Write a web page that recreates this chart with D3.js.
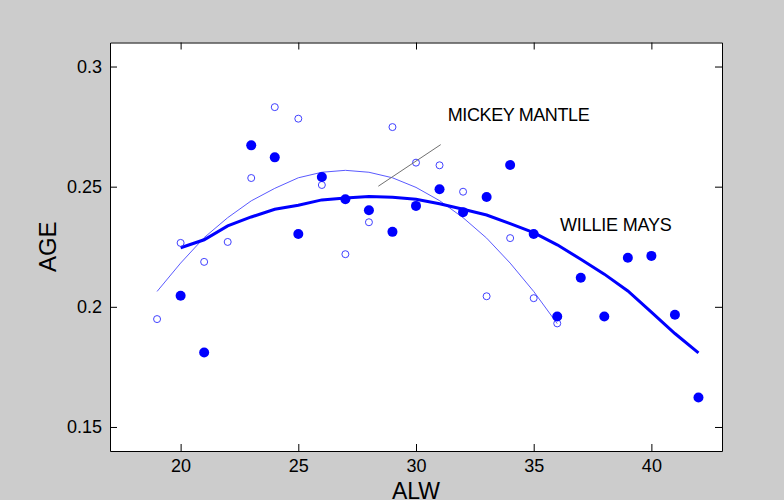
<!DOCTYPE html>
<html>
<head>
<meta charset="utf-8">
<script src="https://cdn.jsdelivr.net/npm/d3@7"></script>
<style>
  body { margin: 0; background: #cccccc; }
  svg { display: block; }
  text { font-family: "Liberation Sans", Arial, sans-serif; fill: #000; }
</style>
</head>
<body>
<div id="chart"></div>
<script>
// Willie Mays seasons (no age 22 season)
const maysAges = [20, 21, 23, 24, 25, 26, 27, 28, 29, 30, 31, 32, 33, 34, 35, 36, 37, 38, 39, 40, 41, 42];
const maysValues = [0.2046, 0.181, 0.2672, 0.2622, 0.2303, 0.254, 0.2448, 0.2402, 0.2312, 0.242, 0.2489,
  0.2394, 0.2457, 0.259, 0.2303, 0.196, 0.2121, 0.196, 0.2204, 0.2212, 0.1967, 0.1623];

// Mickey Mantle seasons
const mantleAges = [19, 20, 21, 22, 23, 24, 25, 26, 27, 28, 29, 30, 31, 32, 33, 34, 35, 36];
const mantleValues = [0.1949, 0.2266, 0.2187, 0.227, 0.2536, 0.2831, 0.2783, 0.2507, 0.2219, 0.2352, 0.2748,
  0.26, 0.2589, 0.2479, 0.2044, 0.2286, 0.2036, 0.1931];

// fitted curves, read at each age
const maysFitAges = [20, 21, 22, 23, 24, 25, 26, 27, 28, 29, 30, 31, 32, 33, 34, 35, 36, 37, 38, 39, 40, 41, 42];
const maysFit = [0.2246, 0.2279, 0.2337, 0.2374, 0.2406, 0.2423, 0.2445, 0.2453, 0.2459, 0.2456, 0.2448, 0.2429,
  0.2406, 0.2382, 0.2346, 0.2309, 0.2258, 0.2198, 0.2136, 0.2066, 0.1978, 0.1889, 0.1808];
const mantleFit = [0.2064, 0.2182, 0.2288, 0.2371, 0.2441, 0.2493, 0.2537, 0.256, 0.2568, 0.256, 0.2537, 0.2497,
  0.2442, 0.2371, 0.2286, 0.2182, 0.2064, 0.193];

const xTicks = [20, 25, 30, 35, 40];
const yTicks = [0.15, 0.2, 0.25, 0.3];
const yTickLabels = ['0.15', '0.2', '0.25', '0.3'];

const width = 784, height = 500;
const margin = { top: 42.5, right: 62, bottom: 49, left: 110 };
const innerW = width - margin.left - margin.right;
const innerH = height - margin.top - margin.bottom;

const svg = d3.select('#chart').append('svg')
  .attr('width', width)
  .attr('height', height);

svg.append('rect')
  .attr('width', width).attr('height', height)
  .attr('fill', '#cccccc');

const chart = svg.append('g')
  .attr('transform', `translate(${margin.left},${margin.top})`);

chart.append('rect')
  .attr('width', innerW).attr('height', innerH)
  .attr('fill', '#fff');

const xScale = d3.scaleLinear().domain([17, 43]).range([0, innerW]);
const yScale = d3.scaleLinear().domain([0.14, 0.31]).range([innerH, 0]);

// axes with inward ticks on all four sides
const tickLen = 7;
const xAxis = d3.axisBottom(xScale).tickValues(xTicks).tickSizeInner(-tickLen).tickSizeOuter(0).tickPadding(8);
const xAxisTop = d3.axisTop(xScale).tickValues(xTicks).tickSizeInner(-tickLen).tickSizeOuter(0).tickFormat('');
const yAxis = d3.axisLeft(yScale).tickValues(yTicks).tickSizeInner(-tickLen).tickSizeOuter(0).tickPadding(8)
  .tickFormat((d, i) => yTickLabels[i]);
const yAxisRight = d3.axisRight(yScale).tickValues(yTicks).tickSizeInner(-tickLen).tickSizeOuter(0).tickFormat('');

const styleAxis = g => {
  g.select('.domain').attr('stroke', '#000');
  g.selectAll('.tick line').attr('stroke', '#000');
  g.selectAll('.tick text').style('font-size', '18px').attr('fill', '#000');
};

chart.append('g').attr('transform', `translate(0,${innerH})`).call(xAxis).call(styleAxis);
chart.append('g').call(xAxisTop).call(styleAxis);
chart.append('g').call(yAxis).call(styleAxis);
chart.append('g').attr('transform', `translate(${innerW},0)`).call(yAxisRight).call(styleAxis);

// axis labels
svg.append('text')
  .attr('x', margin.left + xScale(30))
  .attr('y', 499)
  .attr('text-anchor', 'middle')
  .style('font-size', '23px')
  .text('ALW');

svg.append('text')
  .attr('transform', `translate(56,${margin.top + yScale(0.225)}) rotate(-90)`)
  .attr('text-anchor', 'middle')
  .style('font-size', '24px')
  .text('AGE');

// fitted curves
const line = d3.line()
  .x(d => xScale(d[0]))
  .y(d => yScale(d[1]));

chart.append('path')
  .datum(mantleAges.map((a, i) => [a, mantleFit[i]]))
  .attr('fill', 'none')
  .attr('stroke', '#5a5aff')
  .attr('stroke-width', 1)
  .attr('d', line);

chart.append('path')
  .datum(maysFitAges.map((a, i) => [a, maysFit[i]]))
  .attr('fill', 'none')
  .attr('stroke', '#0000ff')
  .attr('stroke-width', 3)
  .attr('d', line);

// Mantle: open markers
chart.selectAll('.mantle')
  .data(mantleAges.map((a, i) => [a, mantleValues[i]]))
  .enter().append('circle')
  .attr('class', 'mantle')
  .attr('cx', d => xScale(d[0]))
  .attr('cy', d => yScale(d[1]))
  .attr('r', 3.5)
  .attr('fill', 'none')
  .attr('stroke', '#4040ff')
  .attr('stroke-width', 1);

// Mays: filled markers
chart.selectAll('.mays')
  .data(maysAges.map((a, i) => [a, maysValues[i]]))
  .enter().append('circle')
  .attr('class', 'mays')
  .attr('cx', d => xScale(d[0]))
  .attr('cy', d => yScale(d[1]))
  .attr('r', 5)
  .attr('fill', '#0000ff');

// annotations
chart.append('line')
  .attr('x1', xScale(28.4)).attr('y1', yScale(0.2502))
  .attr('x2', xScale(31.05)).attr('y2', yScale(0.2675))
  .attr('stroke', '#707070')
  .attr('stroke-width', 1);

chart.append('text')
  .attr('x', xScale(31.35))
  .attr('y', yScale(0.2773))
  .style('font-size', '18px')
  .style('letter-spacing', '-0.4px')
  .text('MICKEY MANTLE');

chart.append('text')
  .attr('x', xScale(36.12))
  .attr('y', yScale(0.2316))
  .style('font-size', '18px')
  .style('letter-spacing', '-0.2px')
  .text('WILLIE MAYS');
</script>
</body>
</html>
